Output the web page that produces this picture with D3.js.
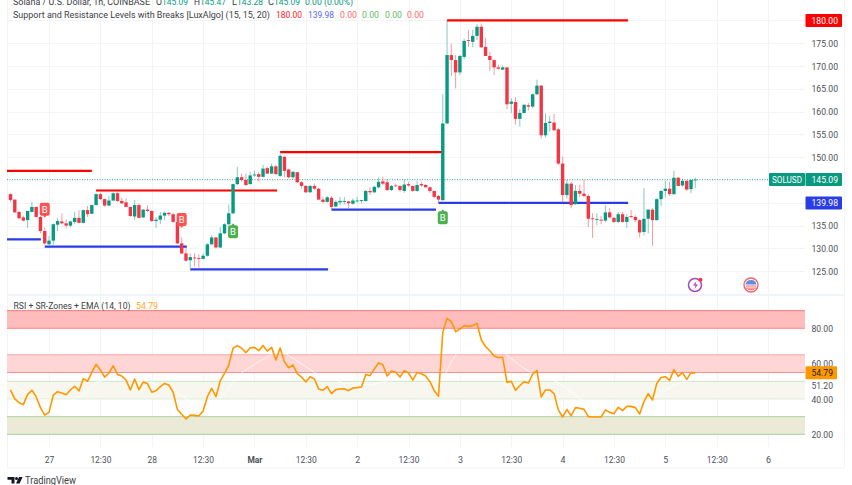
<!DOCTYPE html>
<html><head><meta charset="utf-8">
<script src="https://cdn.jsdelivr.net/npm/d3@7"></script>
<style>html,body{margin:0;padding:0;background:#fff;overflow:hidden}svg{display:block}text{font-family:Roboto,"Noto Sans",sans-serif}</style>
</head><body><svg id="c" width="852" height="485"></svg>
<script>
const opens=[141.9,140.7,138.0,136.8,136.2,138.0,139.1,136.9,133.8,130.9,131.7,135.2,135.9,135.5,135.0,135.8,136.7,135.6,138.4,137.6,139.5,141.9,140.8,139.4,140.5,142.1,140.4,140.1,139.1,137.0,139.5,136.8,138.5,138.2,136.0,136.3,137.2,137.8,137.5,135.8,131.1,128.9,127.4,128.0,127.9,127.7,128.4,130.9,132.4,130.2,133.3,135.3,137.7,144.1,145.6,145.0,144.1,146.0,146.3,145.7,147.6,146.4,148.0,145.9,150.1,147.3,145.6,146.7,144.5,143.7,142.3,143.7,143.1,140.7,140.2,141.1,139.2,140.1,140.2,140.3,139.8,140.4,140.4,140.4,142.6,142.3,143.4,144.7,144.5,142.8,143.8,143.7,142.6,144.1,143.7,142.6,144.1,143.9,143.4,142.6,141.5,140.6,157.4,172.4,171.3,168.6,172.0,175.7,175.3,176.6,178.6,174.2,172.2,171.3,169.7,169.2,169.7,161.7,162.1,158.4,159.7,161.4,161.1,163.8,165.7,154.8,157.5,157.6,156.1,148.6,141.7,144.2,139.7,142.6,142.0,141.5,136.6,136.3,136.3,136.1,137.9,136.7,135.8,137.5,135.8,137.1,136.9,136.2,133.6,136.5,138.5,136.2,140.8,142.6,143.1,141.9,145.5,143.8,144.8,143.0,145.09];
const highs=[142.1,140.7,138.2,137.2,138.2,140.2,139.1,137.1,134.6,132.7,135.5,136.6,137.7,136.4,136.1,138.0,138.4,138.5,139.3,139.6,142.1,142.2,140.9,141.5,142.3,142.3,141.1,141.0,139.1,140.6,139.9,138.7,139.5,138.4,136.9,138.0,138.1,138.0,137.8,137.7,132.4,130.0,128.9,128.9,128.7,128.9,131.1,132.9,132.5,134.7,135.5,139.6,144.2,147.9,146.4,146.4,146.8,147.0,146.8,148.3,147.9,148.6,148.3,150.8,150.2,147.5,146.9,146.8,144.7,143.9,143.9,144.2,143.3,141.3,141.5,141.5,140.5,141.3,141.3,140.4,141.0,141.3,140.7,142.8,143.4,143.7,145.6,145.7,145.1,143.9,144.2,143.8,145.1,144.6,143.8,144.8,144.6,144.1,143.5,142.6,141.7,163.8,180.1,174.9,172.4,172.4,176.0,177.9,177.9,179.2,179.3,176.2,173.1,171.4,170.3,170.1,169.7,162.9,163.1,160.5,161.6,161.9,164.0,167.0,165.8,159.6,159.0,159.5,156.5,150.1,145.0,144.6,143.9,144.0,145.0,141.9,137.7,137.7,137.1,139.5,138.8,136.9,138.0,138.0,137.5,138.4,137.3,136.4,143.2,138.5,138.8,141.0,142.8,144.8,144.6,147.0,145.7,145.3,145.0,145.1,145.47];
const lows=[140.2,137.8,136.4,135.9,134.5,137.9,136.8,133.3,130.7,130.7,130.7,133.8,135.3,134.4,134.6,135.3,135.5,135.5,136.9,137.5,139.4,140.6,139.1,139.2,140.4,140.2,139.7,139.0,136.9,136.2,136.6,136.6,138.0,135.8,134.5,135.3,136.2,137.1,135.6,131.0,128.7,127.1,125.6,126.0,125.8,127.6,128.2,130.7,130.0,130.1,133.1,135.1,137.5,143.9,144.6,143.7,144.0,145.7,144.6,145.6,146.3,146.3,146.1,145.7,145.6,145.3,145.1,144.4,143.1,142.2,142.2,142.8,140.6,139.9,140.0,138.6,139.0,139.5,139.6,138.8,139.6,140.0,139.9,140.2,141.7,142.2,143.2,143.9,142.6,142.6,143.5,142.4,142.2,143.5,142.4,142.4,143.5,143.3,142.2,141.0,140.0,140.4,157.3,167.8,165.1,168.0,171.5,174.2,174.1,175.7,173.9,172.2,168.9,168.0,169.2,169.1,160.5,159.7,157.2,156.7,159.6,160.3,160.7,163.6,154.1,154.3,155.6,155.8,148.3,139.9,141.0,138.8,139.5,141.3,141.2,134.7,132.3,135.1,135.3,135.8,136.6,135.6,135.5,135.6,134.5,136.6,135.8,132.4,132.9,133.3,130.6,136.1,139.3,141.2,141.5,141.7,143.7,143.5,142.6,142.1,143.28];
const closes=[140.6,137.9,136.6,136.1,138.2,139.1,136.9,133.8,131.1,131.7,135.3,136.0,135.5,135.0,135.9,136.7,135.6,138.4,137.5,139.5,141.9,140.8,139.4,140.5,142.1,140.4,139.9,139.1,137.1,139.5,136.7,138.5,138.2,136.0,136.3,137.2,137.8,137.5,135.8,131.1,128.9,127.3,128.1,127.9,127.7,128.4,130.9,132.4,130.2,133.3,135.3,137.7,144.1,145.6,145.0,143.9,146.0,146.2,145.7,147.5,146.4,148.0,146.3,150.3,147.0,145.6,146.8,144.5,143.7,142.3,143.7,143.1,140.7,140.2,141.2,139.1,140.2,140.4,140.4,139.9,140.5,140.5,140.6,142.6,142.3,143.5,144.6,144.2,142.8,143.7,143.7,142.8,144.0,143.8,142.6,143.9,143.8,143.4,142.6,141.3,140.7,157.4,172.4,171.3,168.6,172.2,175.5,175.5,176.6,178.6,174.1,172.2,171.3,169.7,169.4,169.7,161.6,162.2,158.4,159.7,161.5,161.1,163.8,165.7,154.8,157.5,157.8,155.9,148.6,141.7,144.2,139.5,142.6,142.0,141.5,136.5,136.4,136.4,136.1,137.9,136.8,135.8,137.5,135.8,136.9,136.9,136.2,133.5,136.5,138.5,136.2,140.8,142.6,143.1,141.9,145.5,143.7,144.8,142.9,145.0,145.09];
const rsi=[45.1,40.0,37.9,36.8,42.6,44.9,41.3,35.1,30.9,32.4,42.2,44.1,43.4,42.4,45.1,47.2,44.5,51.5,50.0,55.1,59.6,56.4,52.4,54.7,58.8,53.9,53.0,50.7,45.1,51.3,45.3,49.6,48.7,43.8,44.7,47.0,48.8,47.9,43.8,34.0,31.3,28.7,30.9,30.7,30.4,33.2,41.3,46.0,41.3,50.2,54.5,59.2,68.7,70.2,68.7,66.2,69.0,69.2,67.3,70.2,67.1,69.2,62.0,68.8,61.1,57.7,59.2,54.3,52.4,49.6,52.6,51.3,45.6,44.9,47.0,43.0,45.3,45.6,45.8,44.7,46.2,46.4,46.8,53.9,53.2,57.0,60.4,59.4,53.0,55.8,55.1,52.4,56.0,54.7,50.7,55.1,54.3,53.0,49.8,44.7,41.5,77.7,85.6,83.8,78.1,79.6,81.5,81.1,81.5,82.8,73.4,69.6,67.3,64.3,63.4,63.6,49.4,50.0,44.9,47.5,49.8,49.0,54.1,56.2,41.1,45.1,45.1,43.0,33.8,29.8,34.0,30.5,35.1,34.7,34.1,30.0,29.8,29.8,29.8,33.8,32.4,31.7,35.3,33.4,35.8,35.8,35.1,31.5,38.5,43.0,39.4,48.8,52.1,52.6,50.5,56.6,52.8,54.9,51.1,54.9,54.79];
const emaIdx=[0,3,7,13,17,20,25,33,38,41,47,49,52,54,60,63,66,69,71,78,84,92,100,101,103,104,107,110,116,119,122,128,131,133,142,150,155,158,160];
const emaVal=[48.9,44.1,40,38,42.6,49.4,52.6,48.9,45.6,40,35.6,40,49.4,55,64,67.7,63,58.3,55,48.9,47.9,52.6,49.8,51.3,61,64.9,74.3,76.2,64.9,58.9,54.5,49.4,44.1,40,33.8,40,47.9,50.2,51.7];
const resStart=[-2,20,63,102], resEnd=[19,62.3,101,144.3], resPrice=[147.0,142.7,151.1,180];
const supStart=[-2,8,42,75,100], supEnd=[7.1,41.2,74.2,99.4,144.3], supPrice=[132.0,130.4,125.4,138.5,139.98];
const sigIdx=[8,40,52,101], sigPrice=[136.7,134.5,135.5,138.6], sigType=["red","red","green","green"];
const priceTicks=[175,170,165,160,155,150,135,130,125];
const gridPrices=[180,175,170,165,160,155,150,145,140,135,130,125];
const rsiTicks=[80,60,51.2,40,20];
const zoneHi=[90,65,50,30], zoneLo=[80,55,40,20];
const zoneFill=["#ffbcbc","#ffd6d6","#f8f7ef","#eaead7"], zoneTopLine=["#f77c7c","#f9a5a5","#cbe6c4","#b0d2a4"], zoneBotLine=["#ff9d9d","#f58f8f","#dcecd6","#a9cf9d"];
const timeIdx=[9,21,33,45,57,69,81,93,105,117,129,141,153,165,177];
const timeLabels=["27","12:30","28","12:30","Mar","12:30","2","12:30","3","12:30","4","12:30","5","12:30","6"];

const UP="#089981",DN="#f23645",L=7,R=805,RA=844;
const FS=9.5, FF='Roboto,"Noto Sans",sans-serif';
const svg=d3.select("#c");
const x=d3.scaleLinear().domain([0,160]).range([10.5,695.3]);
const y=d3.scaleLinear().domain([180,125]).range([20.4,271.2]);
const yr=d3.scaleLinear().domain([80,20]).range([328.3,434.3]);
const defs=svg.append("defs");
defs.append("clipPath").attr("id","p").append("rect").attr("x",L).attr("y",0).attr("width",R-L).attr("height",294);
defs.append("clipPath").attr("id","r").append("rect").attr("x",L).attr("y",296).attr("width",R-L).attr("height",151);
function fit(sel,w){sel.attr("textLength",w).attr("lengthAdjust","spacingAndGlyphs");}

// frame
const frame="#f0f3f8";
svg.append("rect").attr("x",L+.5).attr("y",-2).attr("width",RA-L).attr("height",470).attr("fill","none").attr("stroke",frame);
svg.append("rect").attr("x",L).attr("y",294).attr("width",RA-L).attr("height",2).attr("fill",frame);

// grids
const vg=svg.append("g").attr("stroke","#f3f4f6");
vg.selectAll("line.a").data(timeIdx).join("line").attr("class","a").attr("x1",d=>Math.round(x(d))+.5).attr("x2",d=>Math.round(x(d))+.5).attr("y1",0).attr("y2",294);
vg.selectAll("line.b").data(timeIdx).join("line").attr("class","b").attr("x1",d=>Math.round(x(d))+.5).attr("x2",d=>Math.round(x(d))+.5).attr("y1",296).attr("y2",447);
vg.selectAll("line.c").data(gridPrices).join("line").attr("class","c").attr("x1",L).attr("x2",R).attr("y1",d=>Math.round(y(d))+.5).attr("y2",d=>Math.round(y(d))+.5);

// price pane
const pp=svg.append("g").attr("clip-path","url(#p)");
pp.append("line").attr("x1",L).attr("x2",769).attr("y1",y(145.09)).attr("y2",y(145.09)).attr("stroke",UP).attr("stroke-opacity",.75).attr("stroke-dasharray","1 1.5");
pp.selectAll("line.res").data(resPrice).join("line").attr("class","res").attr("x1",(d,i)=>x(resStart[i])).attr("x2",(d,i)=>x(resEnd[i])).attr("y1",d=>y(d)).attr("y2",d=>y(d)).attr("stroke","#ff0000").attr("stroke-width",2.2);
pp.selectAll("line.sup").data(supPrice).join("line").attr("class","sup").attr("x1",(d,i)=>x(supStart[i])).attr("x2",(d,i)=>x(supEnd[i])).attr("y1",d=>y(d)).attr("y2",d=>y(d)).attr("stroke","#2a3ce6").attr("stroke-width",2.2);
const bars=pp.selectAll("g.bar").data(opens.map((o,i)=>({i,o,h:highs[i],l:lows[i],c:closes[i]}))).join("g").attr("class","bar");
bars.append("line").attr("x1",d=>x(d.i)).attr("x2",d=>x(d.i)).attr("y1",d=>y(d.h)).attr("y2",d=>y(d.l)).attr("stroke",d=>d.c>=d.o?UP:DN).attr("stroke-opacity",.5).attr("stroke-width",1);
bars.append("rect").attr("x",d=>x(d.i)-1.7).attr("width",3.4).attr("y",d=>y(Math.max(d.o,d.c))).attr("height",d=>Math.max(.8,Math.abs(y(d.o)-y(d.c)))).attr("fill",d=>d.c>=d.o?UP:DN);

// signal bubbles
const sig=pp.selectAll("g.sig").data(sigIdx).join("g").attr("class","sig").attr("transform",(d,i)=>`translate(${x(d)},${y(sigPrice[i])})`);
sig.append("path").attr("fill",(d,i)=>sigType[i]=="red"?"#ff5252":"#4caf50")
 .attr("d",(d,i)=>sigType[i]=="red"?"M-5,-13a2,2 0 0 1 2,-2h6a2,2 0 0 1 2,2v9a2,2 0 0 1 -2,2h-1.5l-1.5,2l-1.5,-2h-1.5a2,2 0 0 1 -2,-2z":"M-5,4a2,2 0 0 1 2,-2h1.5l1.5,-2l1.5,2h1.5a2,2 0 0 1 2,2v9a2,2 0 0 1 -2,2h-6a2,2 0 0 1 -2,-2z");
sig.append("text").attr("text-anchor","middle").attr("y",(d,i)=>sigType[i]=="red"?-5:12).attr("font-size",9.5).attr("fill","#fff").text("B");

// icons
const ic=svg.append("g");
ic.append("circle").attr("cx",695).attr("cy",285).attr("r",6.5).attr("fill","#fff").attr("stroke","#ab47bc").attr("stroke-width",1.5);
ic.append("path").attr("d","M696.5,281l-3.5,4.5h2.5l-1,3.5l3.5,-4.5h-2.5z").attr("fill","#ab47bc");
ic.append("circle").attr("cx",700.5).attr("cy",279.7).attr("r",2).attr("fill","#f23645");
ic.append("circle").attr("cx",751).attr("cy",285).attr("r",7).attr("fill","#fff").attr("stroke","#f4616b").attr("stroke-width",1.4);
ic.append("path").attr("d","M745.6,284.5a5.5,5.5 0 0 1 10.8,0z").attr("fill","#5b8fd9");
ic.selectAll("rect").data([285.5,287.6,289.2]).join("rect").attr("x",d=>d>289?748:746).attr("width",d=>d>289?6:10).attr("y",d=>d).attr("height",1).attr("fill","#f4616b");

// rsi pane
const rp=svg.append("g");
zoneHi.forEach((h,i)=>{
 rp.append("rect").attr("x",L).attr("width",R-L).attr("y",yr(h)).attr("height",yr(zoneLo[i])-yr(h)).attr("fill",zoneFill[i]);
 rp.append("line").attr("x1",L).attr("x2",R).attr("y1",yr(h)).attr("y2",yr(h)).attr("stroke",zoneTopLine[i]);
 rp.append("line").attr("x1",L).attr("x2",R).attr("y1",yr(zoneLo[i])).attr("y2",yr(zoneLo[i])).attr("stroke",zoneBotLine[i]).attr("stroke-width",i==0?1.5:1);
});
const rc=svg.append("g").attr("clip-path","url(#r)");
rc.append("path").attr("d",d3.line().x((d,i)=>x(emaIdx[i])).y(d=>yr(d))(emaVal)).attr("fill","none").attr("stroke","#fff").attr("stroke-opacity",.7).attr("stroke-width",1);
rc.append("path").attr("d",d3.line().x((d,i)=>x(i)).y(d=>yr(d))(rsi)).attr("fill","none").attr("stroke","#ff9800").attr("stroke-width",1.6).attr("stroke-linejoin","round");

// axes
function clean(g){g.select(".domain").remove();g.selectAll(".tick line").remove();g.selectAll("text").attr("font-family",FF);}
const ax=svg.append("g").attr("transform","translate(838,0)").call(d3.axisLeft(y).tickValues(priceTicks).tickFormat(d3.format(".2f")).tickSize(0).tickPadding(0)).call(clean);
ax.selectAll("text").attr("fill","#4a4f5a").attr("font-size",FS).call(fit,26.5);
const axr=svg.append("g").attr("transform","translate(833,0)").call(d3.axisLeft(yr).tickValues(rsiTicks).tickFormat(d3.format(".2f")).tickSize(0).tickPadding(0)).call(clean);
axr.selectAll("text").attr("fill","#4a4f5a").attr("font-size",FS).call(fit,21.5);
axr.selectAll(".tick").filter(d=>d===51.2).select("text").attr("dy","0.98em");
const axt=svg.append("g").attr("transform","translate(0,453)").call(d3.axisBottom(x).tickValues(timeIdx).tickFormat((d,i)=>timeLabels[i]).tickSize(0)).call(clean);
axt.selectAll("text").attr("fill","#4a4f5a").attr("font-size",FS).attr("font-weight",(d,i)=>timeLabels[i]=="Mar"?700:400)
 .each(function(d,i){const s=timeLabels[i];d3.select(this).call(fit,s=="Mar"?15:s.length>2?21:s.length==2?9.5:5);});

// price badges
function badge(x0,x1,yc,fill,txt,col,anchorX,w){
 svg.append("rect").attr("x",x0).attr("width",x1-x0).attr("y",yc-6.5).attr("height",13).attr("fill",fill).attr("rx",1);
 svg.append("text").attr("x",anchorX).attr("y",yc+3.4).attr("text-anchor","end").attr("fill",col).attr("font-size",FS).call(fit,w).text(txt);
}
badge(805.5,842,y(180),"#ff0000","180.00","#fff",838,26.5);
badge(769,805,y(145.09),UP,"SOLUSD","#fff",802,30);
badge(805.5,842,y(145.09),UP,"145.09","#fff",838,26.5);
badge(805.5,842,y(139.98),"#2a3ce6","139.98","#fff",838,26.5);
badge(805.5,837,yr(54.79),"#ff9800","54.79","#222",833,21.5);

// legends
const legend=svg.append("g").attr("font-size",FS);
function t(px,py,s,col,w){legend.append("text").attr("x",px).attr("y",py).attr("fill",col).call(fit,w).text(s);}
const ink="#3c4043";
t(13,5,"Solana / U.S. Dollar, 1h, COINBASE",ink,137);
[["O",156,ink,6],["145.09",162,UP,26],["H",194,ink,6],["145.47",200,UP,26],["L",232,ink,5],["143.28",237,UP,26],["C",268,ink,6],["145.09",274,UP,26],["0.00 (0.00%)",305,UP,48]].forEach(a=>t(a[1],5,a[0],a[2],a[3]));
t(13,18,"Support and Resistance Levels with Breaks [LuxAlgo] (15, 15, 20)",ink,257);
[["180.00",276,"#ff1a1a",26],["139.98",308,"#5a66ff",26],["0.00",340,"#ff6b6b",17],["0.00",362,"#66bb6a",17],["0.00",385,"#66bb6a",17],["0.00",407,"#ff6b6b",17]].forEach(a=>t(a[1],18,a[0],a[2],a[3]));
t(13.5,309,"RSI + SR-Zones + EMA (14, 10)",ink,117);
t(136,309,"54.79","#ffa726",22);

// TradingView mark
svg.append("path").attr("d","M7.5,477h7v6.5h-3v-3.8h-4zM15,478.5a1.5,1.5 0 1 0 3,0a1.5,1.5 0 1 0 -3,0zM19,477h3.6l-3,6.5h-3.6z").attr("fill","#131722");
svg.append("text").attr("x",25).attr("y",484).attr("font-size",11).attr("fill","#3c4043").call(fit,51).text("TradingView");
</script></body></html>
